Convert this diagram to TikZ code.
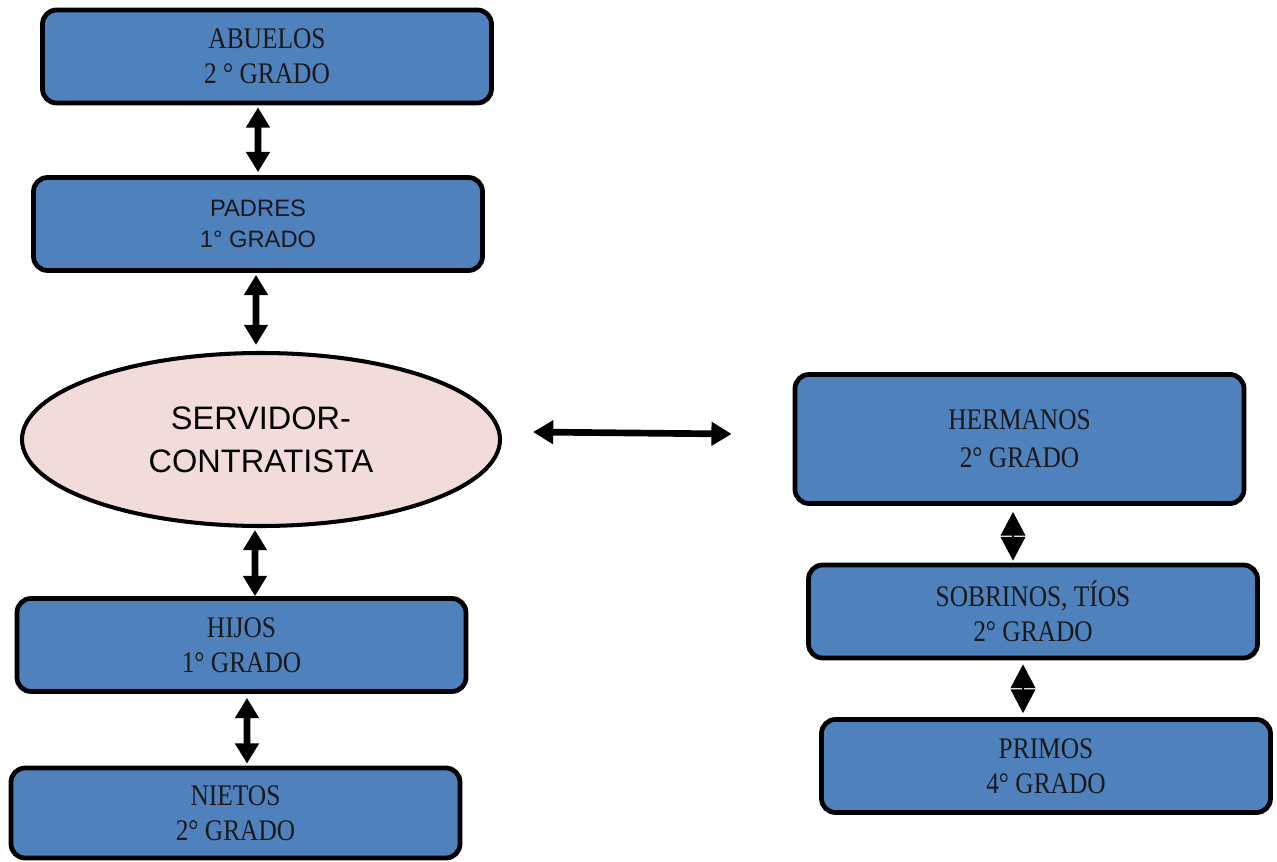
\documentclass[tikz,border=0pt]{standalone}
\usepackage{fontspec}
\setmainfont{Liberation Serif}
\newfontfamily\boxfont{Liberation Serif}[FakeStretch=0.85]
\newfontfamily\arialfont{Liberation Sans}
\usepackage{tikz}
\usetikzlibrary{arrows.meta,shapes.geometric}

\definecolor{boxblue}{HTML}{4F81BD}
\definecolor{ellpink}{HTML}{F2DCDB}

\begin{document}
\begin{tikzpicture}[
    gradobox/.style={draw=black, line width=2.7pt, rounded corners=8pt, fill=boxblue,
      minimum width=8.98cm, minimum height=1.86cm, align=center,
      font=\boxfont\fontsize{17}{20}\selectfont, text=black!90},
    centerell/.style={ellipse, draw=black, line width=2.3pt, fill=ellpink,
      minimum width=9.56cm, minimum height=3.46cm, align=center,
      font=\arialfont\fontsize{18.5}{24.4}\selectfont},
    dblarrow/.style={line width=3.8pt,
      {Triangle[width=13pt,length=11.5pt]}-{Triangle[width=13pt,length=11.5pt]}},
    diamarrow/.style={line width=1pt,
      {Triangle[width=14pt,length=13.5pt]}-{Triangle[width=14pt,length=13.5pt]}}
  ]
    % page size
    \useasboundingbox (0,0) rectangle (25.54,-17.24);

    % draw left column
    \node[gradobox] (abuelos) at (5.34,-1.13) {ABUELOS\\2 ° GRADO};
    \node[gradobox, font=\arialfont\fontsize{13.5}{17.6}\selectfont] (padres) at (5.16,-4.48) {PADRES\\1° GRADO};
    \node[centerell] (servidor) at (5.22,-8.79) {SERVIDOR-\\CONTRATISTA};
    \node[gradobox] (hijos) at (4.83,-12.9) {HIJOS\\1° GRADO};
    \node[gradobox, minimum height=1.8cm] (nietos) at (4.71,-16.26) {NIETOS\\2° GRADO};

    % draw right column
    \node[gradobox, minimum height=2.58cm, font=\boxfont\fontsize{17}{21.5}\selectfont] (hermanos) at (20.39,-8.78) {HERMANOS\\2° GRADO};
    \node[gradobox] (sobrinos) at (20.66,-12.23) {SOBRINOS, TÍOS\\2° GRADO};
    \node[gradobox] (primos) at (20.92,-15.32) {PRIMOS\\4° GRADO};

    % draw arrows
    \draw[dblarrow] ([xshift=-0.18cm,yshift=-0.04cm]abuelos.south) -- ([yshift=0.06cm]padres.north);
    \draw[dblarrow] ([xshift=-0.04cm,yshift=-0.04cm]padres.south) -- ([xshift=-0.1cm,yshift=0.12cm]servidor.north);
    \draw[dblarrow] ([xshift=-0.12cm,yshift=-0.04cm]servidor.south) -- ([xshift=0.27cm]hijos.north);
    \draw[dblarrow] ([xshift=0.11cm,yshift=-0.08cm]hijos.south) -- ([xshift=0.23cm,yshift=0.04cm]nietos.north);
    \draw[dblarrow] ([xshift=0.62cm,yshift=0.15cm]servidor.east) -- ([xshift=-1.22cm,yshift=0.1cm]hermanos.west);
    \draw[diamarrow] ([xshift=-0.13cm,yshift=-0.12cm]hermanos.south) -- ([xshift=-0.4cm,yshift=0.04cm]sobrinos.north);
    \draw[diamarrow] ([xshift=-0.2cm,yshift=-0.08cm]sobrinos.south) -- ([xshift=-0.46cm,yshift=0.08cm]primos.north);
\end{tikzpicture}
\end{document}
